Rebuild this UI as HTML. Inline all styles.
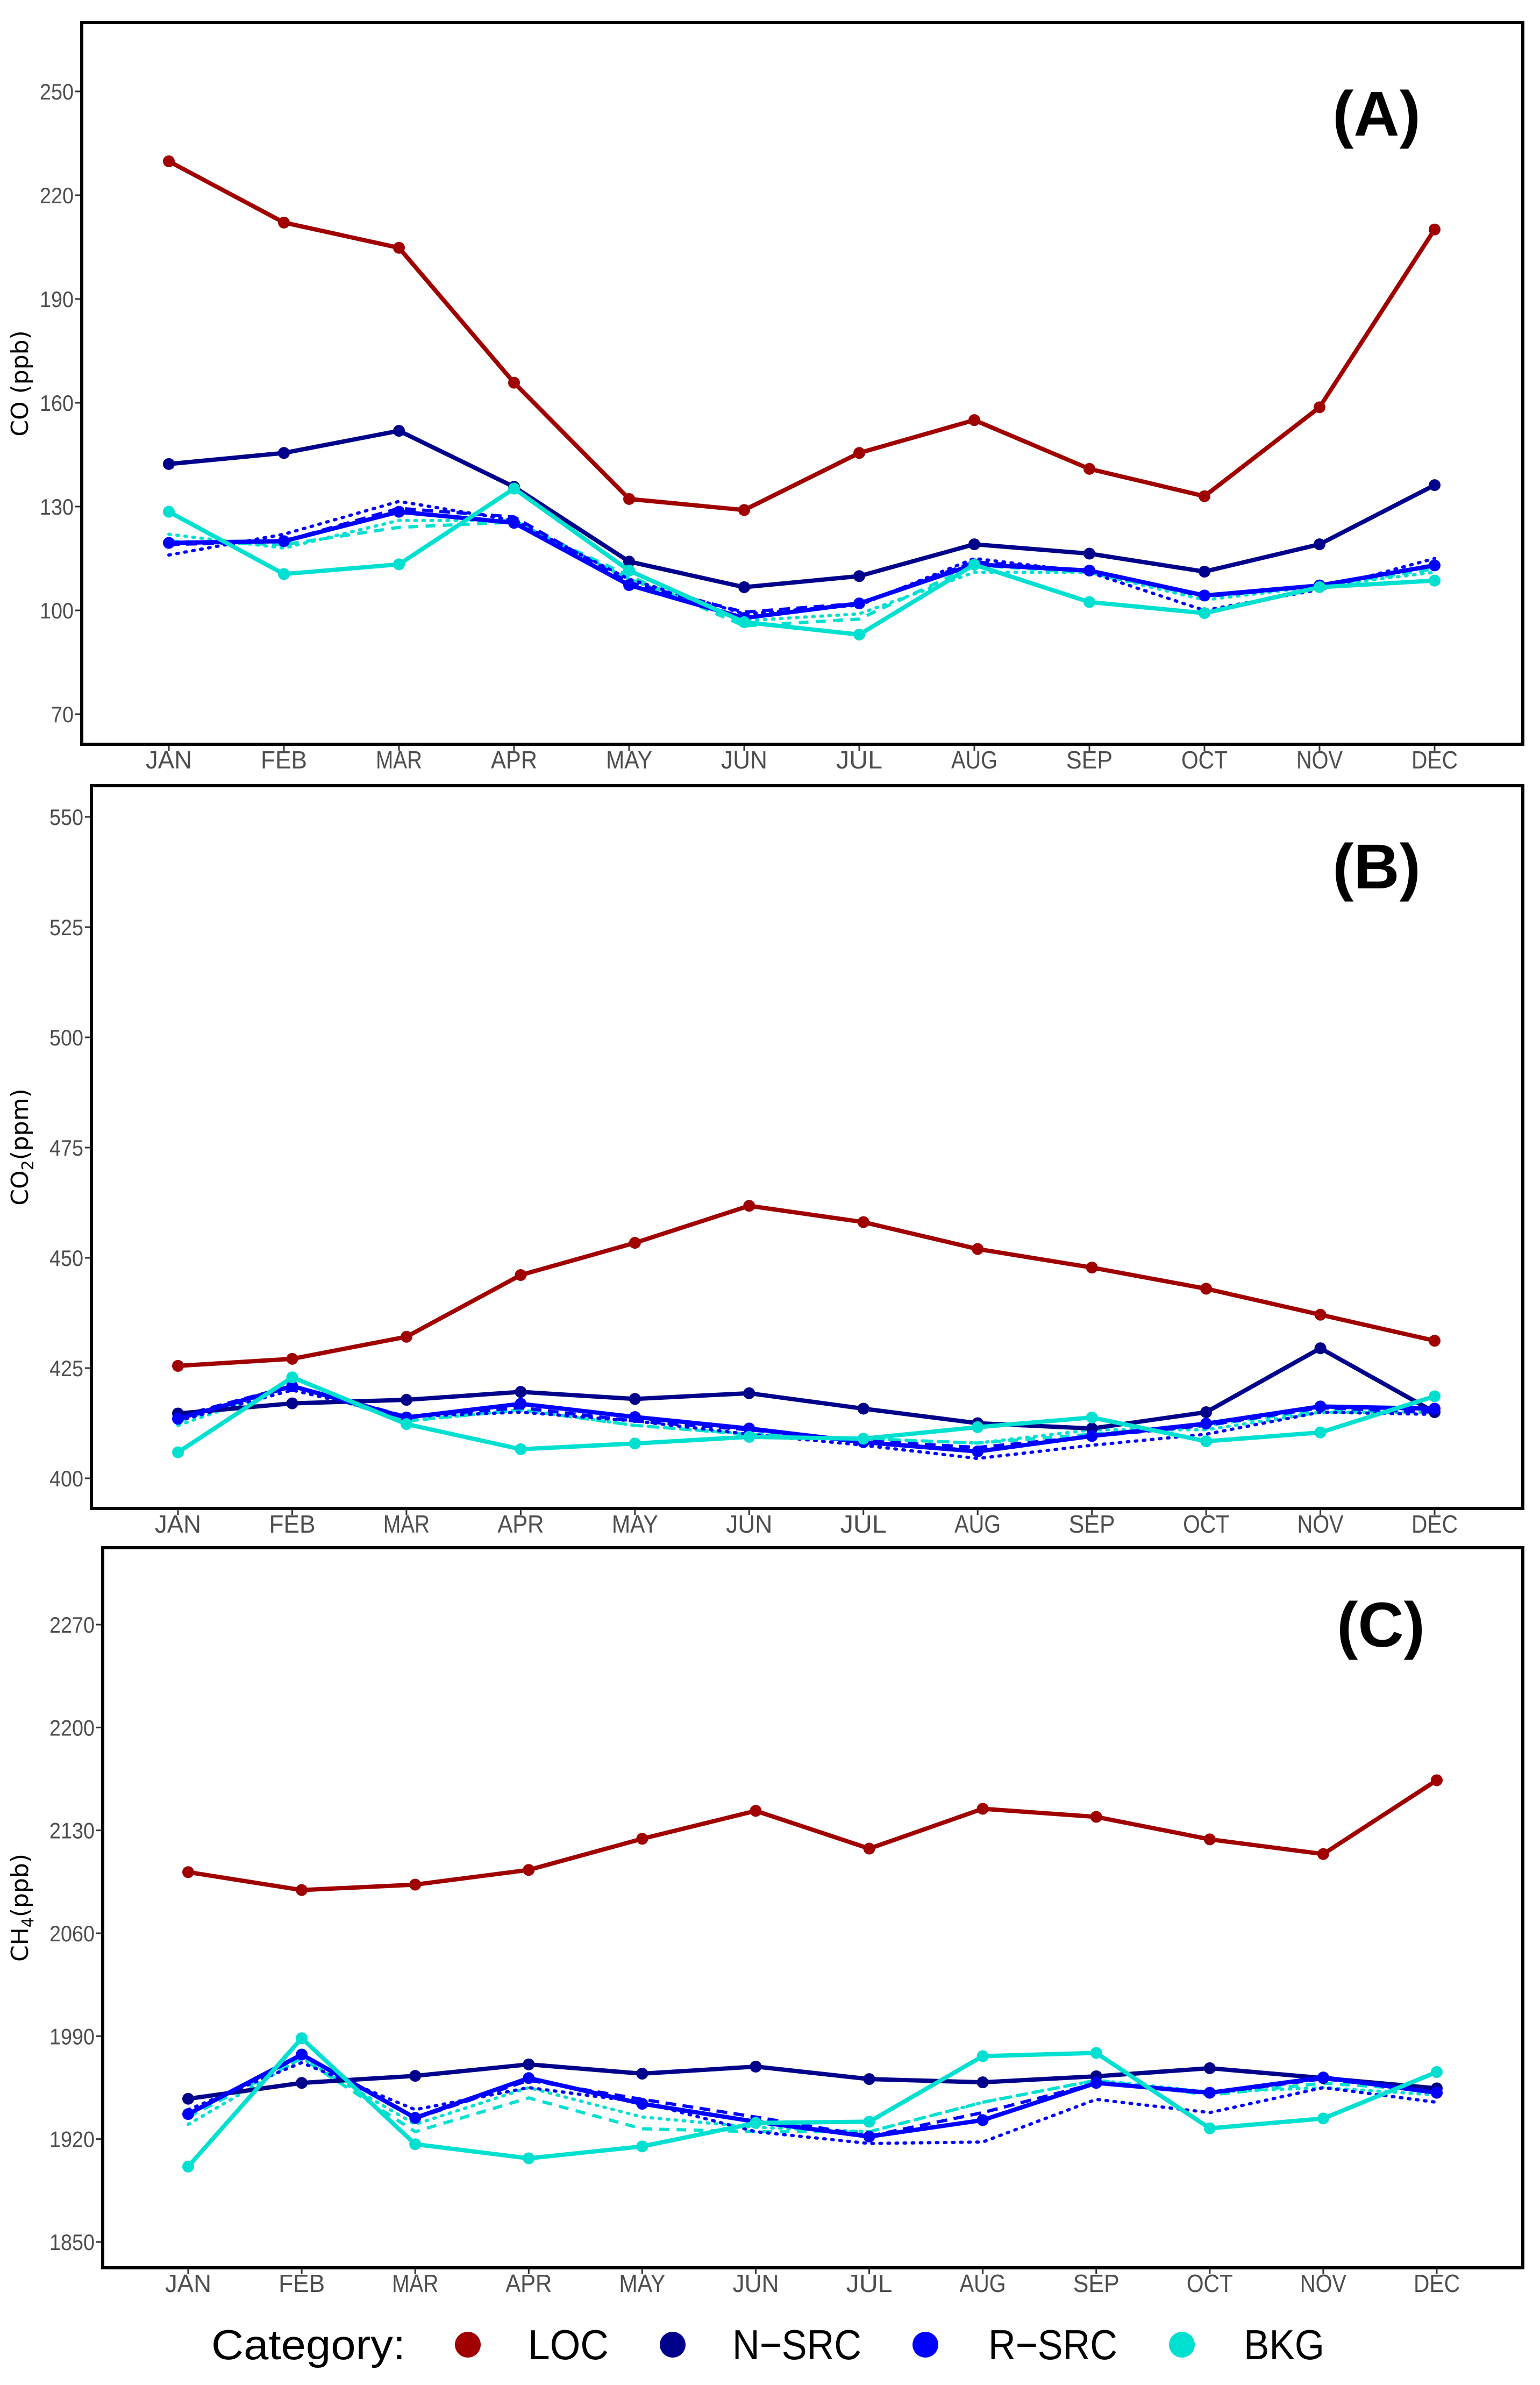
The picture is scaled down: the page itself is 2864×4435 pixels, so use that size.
<!DOCTYPE html>
<html><head><meta charset="utf-8"><style>
html,body{margin:0;padding:0;background:#fff}
svg{display:block}
</style></head><body>
<svg id="chart" width="2864" height="4435" viewBox="0 0 2864 4435" xmlns="http://www.w3.org/2000/svg">
<rect x="0" y="0" width="2864" height="4435" fill="#fff"/>
<g id="panels"></g>
<g id="legend" font-family="Liberation Sans, sans-serif" font-size="78" fill="#000">
<text x="393" y="4387" textLength="361" lengthAdjust="spacingAndGlyphs">Category:</text>
<circle cx="870" cy="4360" r="24" fill="#a00000"/>
<text x="982" y="4387" textLength="150" lengthAdjust="spacingAndGlyphs">LOC</text>
<circle cx="1251" cy="4360" r="24" fill="#00008b"/>
<text x="1362" y="4387" textLength="240" lengthAdjust="spacingAndGlyphs">N−SRC</text>
<circle cx="1721" cy="4360" r="24" fill="#0000ff"/>
<text x="1838" y="4387" textLength="240" lengthAdjust="spacingAndGlyphs">R−SRC</text>
<circle cx="2198" cy="4360" r="24" fill="#00e0d0"/>
<text x="2313" y="4387" textLength="150" lengthAdjust="spacingAndGlyphs">BKG</text>
</g>
</svg>
<script>
const months = ["JAN","FEB","MAR","APR","MAY","JUN","JUL","AUG","SEP","OCT","NOV","DEC"];
// Panel A: CO (ppb)
const coTicks = [70,100,130,160,190,220,250];
const coLOC  = [229.8,212.1,204.8,165.8,132.2,129.0,145.5,155.0,140.9,133.0,158.7,210.1];
const coNSRC = [142.3,145.5,151.9,135.7,114.1,106.7,109.9,119.1,116.4,111.2,119.1,136.2];
const coRSRC = [119.5,120.0,128.5,125.3,107.3,97.8,102.0,113.3,111.5,104.3,107.2,113.0];
const coBKG  = [128.5,110.5,113.3,135.2,111.5,96.6,93.0,113.2,102.4,99.2,106.7,108.6];
const coRSRCdot  = [116,122,131.5,126,109,99,101.5,115,111,100,106,115];
const coRSRCdash = [119,120,129.5,127,108,99.5,102,114,111.5,104,107,113];
const coBKGdot   = [122,118,126,126,109,97,99,111,111,103,107,111];
const coBKGdash  = [120,119,124,125.5,110,95.5,97.5,113,111,104,107,112];
// Panel B: CO2 (ppm)
const co2Ticks = [400,425,450,475,500,525,550];
const co2LOC  = [425.5,427.1,432.1,446.1,453.4,461.8,458.1,452.0,447.8,443.0,437.1,431.2];
const co2NSRC = [414.7,417.0,417.8,419.6,418.0,419.3,415.8,412.5,411.3,415.0,429.5,415.0];
const co2RSRC = [413.5,420.9,413.8,416.9,413.9,411.3,408.2,406.1,409.6,412.4,416.3,415.8];
const co2BKG  = [405.9,422.9,412.3,406.6,407.9,409.4,409.0,411.6,413.8,408.4,410.4,418.6];
const co2RSRCdot  = [413,420,414,415,413,410,407.5,404.5,407.5,410,415,414.5];
const co2RSRCdash = [414,421,414,416,413,411,408.5,407,409.5,412,416,415];
const co2BKGdot   = [412,421,413,415.5,412,410,409,408,411,411,415,415];
const co2BKGdash  = [413,421,413,415.5,412,410,409,408,410,412,415.5,415];
// Panel C: CH4 (ppb)
const ch4Ticks = [1850,1920,1990,2060,2130,2200,2270];
const ch4LOC  = [2101.6,2089.4,2093.1,2103.1,2124.3,2143.3,2117.6,2144.7,2139.2,2123.9,2113.9,2164.1];
const ch4NSRC = [1947.4,1958.2,1963.0,1970.8,1964.5,1969.3,1960.8,1958.6,1962.7,1968.2,1961.5,1954.5];
const ch4RSRC = [1937.0,1977.5,1934.4,1961.5,1944.0,1931.8,1921.7,1932.9,1958.2,1951.5,1961.9,1951.5];
const ch4BKG  = [1901.3,1988.6,1916.5,1906.9,1915.0,1931.0,1931.8,1976.4,1978.6,1927.3,1934.0,1965.6];
const ch4RSRCdot  = [1940,1972,1940,1955,1945,1925,1917,1918,1947,1938,1955,1945];
const ch4RSRCdash = [1937,1977,1934,1960,1947,1935,1922,1938,1958,1951,1961,1952];
const ch4BKGdot   = [1930,1975,1930,1955,1935,1928,1925,1945,1960,1952,1955,1950];
const ch4BKGdash  = [1935,1975,1925,1948,1927,1925,1925,1945,1960,1950,1958,1953];

const NS = "http://www.w3.org/2000/svg";
const C_LOC="#a00000", C_N="#00008b", C_R="#0000ff", C_B="#00e0d0";

function el(tag, attrs, parent){
  const e = document.createElementNS(NS, tag);
  for (const k in attrs) e.setAttribute(k, attrs[k]);
  parent.appendChild(e);
  return e;
}

function panel(cfg){
  const root = document.getElementById('panels');
  const g = el('g', {}, root);
  
  
  const xs = i => cfg.x0 + i*(cfg.x1-cfg.x0)/11;
  const t0 = cfg.ticks[0], tN = cfg.ticks[cfg.ticks.length-1];
  const ys = v => cfg.yb + (v - t0)*(cfg.yt - cfg.yb)/(tN - t0);

  cfg.ticks.forEach(t => {
    const tl = el('line', {x1:cfg.L-12, x2:cfg.L, y1:ys(t), y2:ys(t), stroke:'#333', 'stroke-width':3}, g);
    
    
    const tx = el('text', {x:cfg.L-15, y:ys(t)+15, 'text-anchor':'end', 'font-family':'Liberation Sans, sans-serif', 'font-size':42, fill:'#4d4d4d'}, g);
    
    
    tx.setAttribute('textLength', String(t).length*21);
    tx.setAttribute('lengthAdjust', 'spacingAndGlyphs');
    tx.textContent = t;
  });
  months.forEach((m,i) => {
    const tl = el('line', {x1:xs(i), x2:xs(i), y1:cfg.B, y2:cfg.B+12, stroke:'#333', 'stroke-width':3}, g);
    
    
    const tx = el('text', {x:xs(i), y:cfg.B+45, 'text-anchor':'middle', 'font-family':'Liberation Sans, sans-serif', 'font-size':46, fill:'#4d4d4d'}, g);
    
    
    tx.setAttribute('textLength', 86);
    tx.setAttribute('lengthAdjust', 'spacingAndGlyphs');
    tx.textContent = m;
  });
  const yt = el('text', {x:0, y:0, 'text-anchor':'middle', 'font-family':'DejaVu Sans, sans-serif', 'font-size':44, fill:'#000', transform:`translate(${cfg.titleX},${(cfg.T+cfg.B)/2}) rotate(-90)`}, g);
  
  
  if (cfg.sub){
    yt.appendChild(document.createTextNode(cfg.title));
    const ts = el('tspan', {'font-size':30, dy:10}, yt);
    ts.textContent = cfg.sub;
    const ts2 = el('tspan', {dy:-10}, yt);
    ts2.textContent = cfg.title2;
  } else yt.textContent = cfg.title;

  const series = [
    [cfg.bd, C_B, '18 14', 6],
    [cfg.bo, C_B, '3 12', 6],
    [cfg.rd, C_R, '20 12', 6],
    [cfg.ro, C_R, '3 12', 6],
    [cfg.nsrc, C_N, null, 8],
    [cfg.loc, C_LOC, null, 8],
    [cfg.rsrc, C_R, null, 8],
    [cfg.bkg, C_B, null, 8]
  ];
  const names = ['bkg-dashed','bkg-dotted','rsrc-dashed','rsrc-dotted','nsrc-line','loc-line','rsrc-line','bkg-line'];
  series.forEach((s, si) => {
    const pts = s[0].map((v,i)=>xs(i)+','+ys(v)).join(' ');
    const a = {points:pts, fill:'none', stroke:s[1], 'stroke-width':s[3], 'stroke-linejoin':'round'};
    if (s[2]) { a['stroke-dasharray']=s[2]; a['stroke-linecap']= s[2].startsWith('3')?'round':'butt'; }
    const pl = el('polyline', a, g);
    
    
    if (!s[2]) {
      s[0].forEach((v,i) => {
        const c = el('circle', {cx:xs(i), cy:ys(v), r:11, fill:s[1]}, g);
        
        
      });
    }
  });
  const fr = el('rect', {x:cfg.L, y:cfg.T, width:cfg.R-cfg.L, height:cfg.B-cfg.T, fill:'none', stroke:'#000', 'stroke-width':6}, g);
  
  
  const lab = el('text', {x:cfg.labX, y:cfg.labY, 'text-anchor':'middle', 'font-family':'Liberation Sans, sans-serif', 'font-weight':'bold', 'font-size':118, fill:'#000'}, g);
  
  
  lab.textContent = cfg.label;
}

panel({name:'panel-a-co', L:152, R:2832, T:42, B:1384, x0:314, x1:2668, yb:1328, yt:170,
  ticks:coTicks, loc:coLOC, nsrc:coNSRC, rsrc:coRSRC, bkg:coBKG, ro:coRSRCdot, rd:coRSRCdash, bo:coBKGdot, bd:coBKGdash,
  title:'CO (ppb)', titleX:52, label:'(A)', labX:2560, labY:252});
panel({name:'panel-b-co2', L:170, R:2832, T:1461, B:2805, x0:331, x1:2668, yb:2749, yt:1519,
  ticks:co2Ticks, loc:co2LOC, nsrc:co2NSRC, rsrc:co2RSRC, bkg:co2BKG, ro:co2RSRCdot, rd:co2RSRCdash, bo:co2BKGdot, bd:co2BKGdash,
  title:'CO', sub:'2', title2:'(ppm)', titleX:52, label:'(B)', labX:2560, labY:1652});
panel({name:'panel-c-ch4', L:191, R:2832, T:2878, B:4217, x0:350, x1:2672, yb:4169, yt:3021,
  ticks:ch4Ticks, loc:ch4LOC, nsrc:ch4NSRC, rsrc:ch4RSRC, bkg:ch4BKG, ro:ch4RSRCdot, rd:ch4RSRCdash, bo:ch4BKGdot, bd:ch4BKGdash,
  title:'CH', sub:'4', title2:'(ppb)', titleX:52, label:'(C)', labX:2568, labY:3062});
</script>
</body></html>
